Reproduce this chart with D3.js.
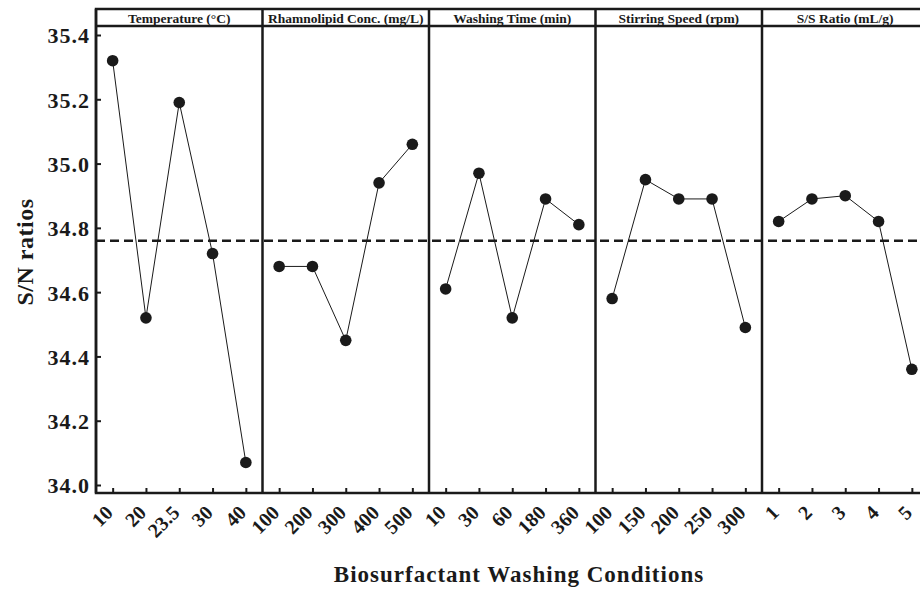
<!DOCTYPE html>
<html>
<head>
<meta charset="utf-8">
<script src="https://cdn.jsdelivr.net/npm/d3@7"></script>
<style>
  body { margin: 0; background: #fff; }
  svg text { font-family: "Liberation Serif", "Times New Roman", serif; font-weight: bold; fill: #1a1a1a; }
</style>
</head>
<body>
<div id="chart"></div>
<script>
// factor names (panel headers)
var factors = ["Temperature (°C)", "Rhamnolipid Conc. (mg/L)", "Washing Time (min)", "Stirring Speed (rpm)", "S/S Ratio (mL/g)"];

// level labels per factor
var tempLevels = ["10", "20", "23.5", "30", "40"];
var concLevels = ["100", "200", "300", "400", "500"];
var timeLevels = ["10", "30", "60", "180", "360"];
var speedLevels = ["100", "150", "200", "250", "300"];
var ratioLevels = ["1", "2", "3", "4", "5"];

// mean S/N ratios per level
var tempSN = [35.32, 34.52, 35.19, 34.72, 34.07];
var concSN = [34.68, 34.68, 34.45, 34.94, 35.06];
var timeSN = [34.61, 34.97, 34.52, 34.89, 34.81];
var speedSN = [34.58, 34.95, 34.89, 34.89, 34.49];
var ratioSN = [34.82, 34.89, 34.90, 34.82, 34.36];

var overallMean = 34.76;
var yTicks = [34.0, 34.2, 34.4, 34.6, 34.8, 35.0, 35.2, 35.4];

var panels = [
  { name: factors[0], levels: tempLevels, values: tempSN },
  { name: factors[1], levels: concLevels, values: concSN },
  { name: factors[2], levels: timeLevels, values: timeSN },
  { name: factors[3], levels: speedLevels, values: speedSN },
  { name: factors[4], levels: ratioLevels, values: ratioSN }
];

var svgWidth = 920;
var svgHeight = 590;

// frame of the plot (note: "top" is taken by window.top, so use frameTop)
var frameLeft = 96, frameRight = 928.5, frameTop = 9, headerBottom = 26, frameBottom = 493;

var svg = d3.select("#chart")
  .append("svg")
  .attr("width", svgWidth)
  .attr("height", svgHeight);

var y = d3.scaleLinear()
  .domain([34.0, 35.4])
  .range([485, 35]);

var panelScale = d3.scaleBand()
  .domain(factors)
  .range([frameLeft, frameRight])
  .padding(0);

// y axis with inward ticks
var yAxis = d3.axisLeft(y)
  .tickValues(yTicks)
  .tickFormat(d3.format(".1f"))
  .tickSizeInner(-5)
  .tickSizeOuter(0)
  .tickPadding(6);

var yg = svg.append("g")
  .attr("transform", `translate(${frameLeft},0)`)
  .call(yAxis);
yg.select(".domain").remove();
yg.selectAll(".tick line").attr("stroke", "#1a1a1a").attr("stroke-width", 2);
yg.selectAll(".tick text")
  .style("font-size", "22px")
  .style("letter-spacing", "1px")
  .attr("dy", "0.36em");

// mean dashed line
svg.append("line")
  .attr("x1", frameLeft)
  .attr("x2", frameRight)
  .attr("y1", y(overallMean))
  .attr("y2", y(overallMean))
  .attr("stroke", "#1a1a1a")
  .attr("stroke-width", 2.5)
  .attr("stroke-dasharray", "9,5");

var line = d3.line()
  .x(d => d.x)
  .y(d => y(d.v));

panels.forEach(function(p) {
  var x0 = panelScale(p.name);
  var x = d3.scalePoint()
    .domain(p.levels)
    .range([x0, x0 + panelScale.bandwidth()])
    .padding(0.5);

  // bottom ticks and rotated labels
  var xAxis = d3.axisBottom(x)
    .tickSizeInner(-5)
    .tickSizeOuter(0);

  var xg = svg.append("g")
    .attr("transform", `translate(0,${frameBottom})`)
    .call(xAxis);
  xg.select(".domain").remove();
  xg.selectAll(".tick line").attr("stroke", "#1a1a1a").attr("stroke-width", 2);
  xg.selectAll(".tick text")
    .style("font-size", "20px")
    .attr("x", 0)
    .attr("y", 0)
    .attr("dy", "0.35em")
    .attr("text-anchor", "end")
    .attr("transform", "translate(-4,16) rotate(-45)");

  var pts = p.values.map((v, i) => ({ x: x(p.levels[i]), v: v }));

  svg.append("path")
    .datum(pts)
    .attr("d", line)
    .attr("fill", "none")
    .attr("stroke", "#1a1a1a")
    .attr("stroke-width", 1);

  svg.selectAll(null)
    .data(pts)
    .enter()
    .append("circle")
    .attr("cx", d => d.x)
    .attr("cy", d => y(d.v))
    .attr("r", 5.8)
    .attr("fill", "#1a1a1a");

  // header label
  svg.append("text")
    .attr("x", x0 + panelScale.bandwidth() / 2)
    .attr("y", 23)
    .attr("text-anchor", "middle")
    .style("font-size", "13.5px")
    .text(p.name);

  // panel divider
  svg.append("line")
    .attr("x1", x0)
    .attr("x2", x0)
    .attr("y1", frameTop)
    .attr("y2", frameBottom)
    .attr("stroke", "#1a1a1a")
    .attr("stroke-width", 2.5);
});

// frame and header band
svg.append("rect")
  .attr("x", frameLeft)
  .attr("y", frameTop)
  .attr("width", frameRight - frameLeft)
  .attr("height", frameBottom - frameTop)
  .attr("fill", "none")
  .attr("stroke", "#1a1a1a")
  .attr("stroke-width", 2.5);

svg.append("line")
  .attr("x1", frameLeft)
  .attr("x2", frameRight)
  .attr("y1", headerBottom)
  .attr("y2", headerBottom)
  .attr("stroke", "#1a1a1a")
  .attr("stroke-width", 2.5);

// axis titles
svg.append("text")
  .attr("x", 519)
  .attr("y", 582)
  .attr("text-anchor", "middle")
  .style("font-size", "23px")
  .style("letter-spacing", "1px")
  .text("Biosurfactant Washing Conditions");

svg.append("text")
  .attr("transform", "translate(33,252) rotate(-90)")
  .attr("text-anchor", "middle")
  .style("font-size", "24px")
  .style("letter-spacing", "0.5px")
  .text("S/N ratios");
</script>
</body>
</html>
